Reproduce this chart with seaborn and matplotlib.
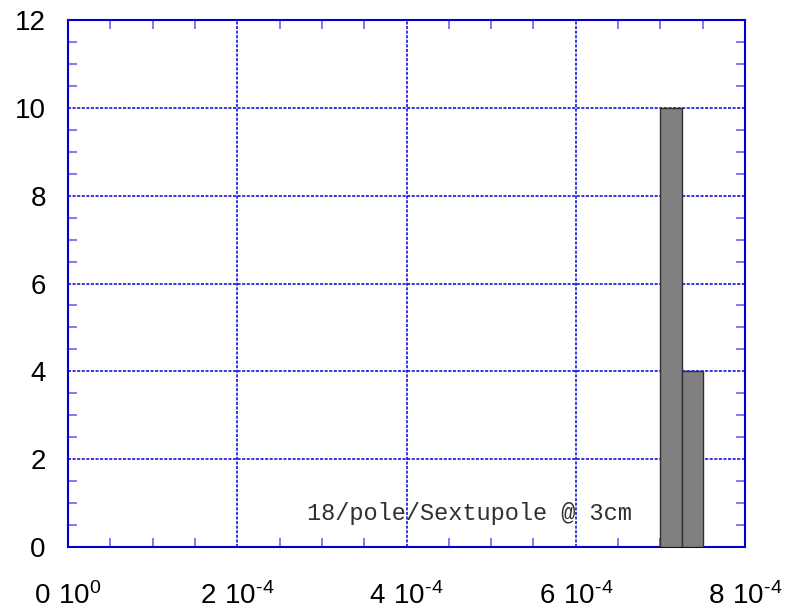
import matplotlib
matplotlib.use("Agg")
import matplotlib.pyplot as plt
from matplotlib.ticker import MultipleLocator, FixedLocator, FixedFormatter
import seaborn as sns

# Histogram bins (edges) and counts
bin_edges = [7.0e-4, 7.25e-4, 7.5e-4]
bin_counts = [10, 4]
bin_centers = [(a + b) / 2 for a, b in zip(bin_edges[:-1], bin_edges[1:])]

x_ticks = [0, 2e-4, 4e-4, 6e-4, 8e-4]
x_tick_labels = [r"$\mathregular{0\ 10^{0}}$", r"$\mathregular{2\ 10^{\text{-}4}}$",
                 r"$\mathregular{4\ 10^{\text{-}4}}$", r"$\mathregular{6\ 10^{\text{-}4}}$",
                 r"$\mathregular{8\ 10^{\text{-}4}}$"]
y_ticks = [0, 2, 4, 6, 8, 10, 12]
caption = "18/pole/Sextupole @ 3cm"

sns.set_style("white")
plt.rcParams["font.family"] = ["Liberation Sans", "DejaVu Sans"]
plt.rcParams["mathtext.fontset"] = "custom"
plt.rcParams["mathtext.rm"] = "Liberation Sans"

fig = plt.figure(figsize=(7.95, 6.11), dpi=100)
ax = fig.add_axes([68 / 795, 1 - 547 / 611, (745 - 68) / 795, (547 - 20) / 611])

sns.histplot(x=bin_centers, weights=bin_counts, bins=bin_edges, ax=ax,
             color="#808080", alpha=1.0, edgecolor="#303030", linewidth=1.0,
             zorder=3)

ax.set_xlim(0, 8e-4)
ax.set_ylim(0, 12)
ax.set_xlabel("")
ax.set_ylabel("")

ax.xaxis.set_major_locator(FixedLocator(x_ticks))
ax.xaxis.set_major_formatter(FixedFormatter(x_tick_labels))
ax.xaxis.set_minor_locator(MultipleLocator(0.5e-4))
ax.yaxis.set_major_locator(FixedLocator(y_ticks))
ax.yaxis.set_minor_locator(MultipleLocator(0.5))

ax.grid(True, which="major", color="#0000dd", linestyle=(0, (2, 1)), linewidth=1.1, zorder=1)
ax.set_axisbelow(True)

for s in ax.spines.values():
    s.set_visible(True)
    s.set_color("#0000cc")
    s.set_linewidth(1.5)

ax.tick_params(which="both", direction="in", top=True, right=True,
               bottom=True, left=True, color="#6666ee", width=1.2)
ax.tick_params(which="major", length=0)
ax.tick_params(which="minor", length=6.5)
ax.tick_params(axis="x", which="major", labelsize=20, pad=25, labelcolor="black")
ax.tick_params(axis="y", which="major", labelsize=20, pad=16, labelcolor="black")

ax.text(6.66e-4, 0.62, caption, family="Liberation Mono", fontsize=17,
        color="#303030", ha="right", va="baseline", zorder=4)

fig.savefig("out.png", dpi=100)
